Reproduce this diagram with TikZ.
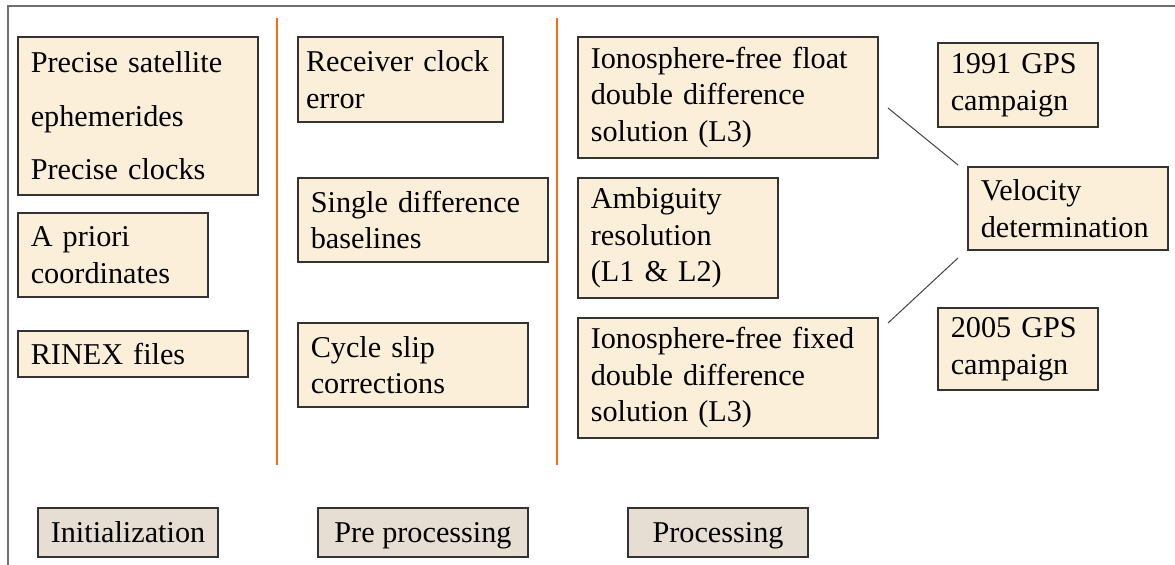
\documentclass[tikz,border=0pt]{standalone}
\usepackage{fontspec}
\setmainfont{Liberation Serif}
\usepackage{tikz}
\definecolor{boxfill}{HTML}{FBEFD9}
\definecolor{stagefill}{HTML}{E6DED2}
\definecolor{splitline}{HTML}{FF6A13}
\definecolor{framegray}{HTML}{707070}
\tikzstyle{infobox} = [draw=black!80, fill=boxfill, line width=0.8pt,
    rectangle, inner xsep=0.32cm, inner ysep=0pt, align=left,
    font=\fontsize{21.5}{26}\selectfont]
\tikzstyle{stagebox} = [draw=black!80, fill=stagefill, line width=0.8pt,
    rectangle, inner sep=0pt, minimum height=1.225cm,
    text height=14pt, text depth=0pt,
    font=\fontsize{21.5}{26}\selectfont]
\tikzstyle{divider} = [draw=splitline, line width=1.6pt]

\begin{document}
\begin{tikzpicture}
                \useasboundingbox (0,0) rectangle (29.375,-14.125);
                \draw[framegray, line width=1.4pt] (0.2,-14.125) -- (0.2,-0.15) -- (29.375,-0.15);
                % initialization column
                \node [infobox, text width=5.36cm, minimum height=3.95cm] (sateph) at (3.45,-2.9) {%
                    Precise satellite\\[12pt] ephemerides\\[12pt] Precise clocks};
                \node [infobox, text width=4.11cm, minimum height=2.1cm] (apriori) at (2.825,-6.375) {A priori\\ coordinates};
                \node [infobox, text width=5.11cm, minimum height=1.15cm] (rinex) at (3.325,-8.85) {RINEX files};
                \path[divider] (6.925,-0.45) -- (6.925,-11.625);
                % pre processing column
                \node [infobox, inner xsep=0.2cm, text width=4.725cm, minimum height=2.125cm] (rcvclock) at (10.0125,-1.9875) {Receiver clock\\ error};
                \node [infobox, text width=5.61cm, minimum height=2.1cm] (singlediff) at (10.575,-5.5) {Single difference\\ baselines};
                \node [infobox, text width=5.11cm, minimum height=2.1cm] (cycleslip) at (10.325,-9.125) {Cycle slip\\ corrections};
                \path[divider] (13.925,-0.45) -- (13.925,-11.625);
                % processing column
                \node [infobox, text width=6.86cm, minimum height=3.025cm] (floatsol) at (18.2,-2.4375) {Ionosphere-free float\\ double difference\\ solution (L3)};
                \node [infobox, text width=4.36cm, minimum height=3cm] (ambres) at (16.95,-5.95) {Ambiguity\\ resolution\\ (L1 \& L2)};
                \node [infobox, text width=6.86cm, minimum height=3cm] (fixedsol) at (18.2,-9.45) {Ionosphere-free fixed\\ double difference\\ solution (L3)};
                % campaigns and velocity
                \node [infobox, text width=3.36cm, minimum height=2.1cm] (camp1991) at (25.45,-2.125) {1991 GPS\\ campaign};
                \node [infobox, text width=4.36cm, minimum height=2.075cm] (velocity) at (26.7,-5.2125) {Velocity\\ determination};
                \node [infobox, text width=3.36cm, minimum height=2.05cm] (camp2005) at (25.45,-8.725) {2005 GPS\\ campaign};
                \coordinate (floatend) at (22.2,-2.7);
                \coordinate (velotop) at (23.95,-4.125);
                \coordinate (fixedend) at (22.2,-8.075);
                \coordinate (velobot) at (23.95,-6.45);
                \draw[black!75, line width=0.7pt] (floatend) -- (velotop);
                \draw[black!75, line width=0.7pt] (fixedend) -- (velobot);
                % stage labels
                \node [stagebox, minimum width=4.5cm] (init) at (3.2,-13.3125) {Initialization};
                \node [stagebox, minimum width=5.25cm] (preproc) at (10.575,-13.3125) {Pre processing};
                \node [stagebox, minimum width=4.5cm] (proc) at (17.95,-13.3125) {Processing};
            \end{tikzpicture}
\end{document}
